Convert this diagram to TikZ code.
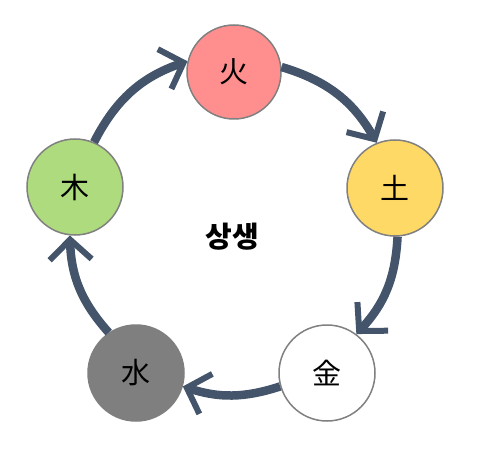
\documentclass[tikz,border=0pt]{standalone}
\usepackage{fontspec}
\newfontfamily\cjk{Noto Sans CJK KR}
\usetikzlibrary{arrows.meta}
\definecolor{firec}{HTML}{FF8F8F}
\definecolor{earthc}{HTML}{FFD966}
\definecolor{waterc}{HTML}{7F7F7F}
\definecolor{woodc}{HTML}{ADDB7E}
\definecolor{arrc}{HTML}{44546A}
\definecolor{edgec}{HTML}{808080}
\tikzset{
  elem/.style={circle, minimum size=96pt, inner sep=0pt, draw=edgec, line width=1.5pt,
    font=\cjk\fontsize{29}{33}\selectfont},
  cyc/.style={draw=arrc, line width=8.5pt,
    -{Straight Barb[length=20pt, width=42pt, line width=6pt, sharp]}},
}
\begin{document}
\begin{tikzpicture}[x=1pt,y=1pt]
\useasboundingbox (0,0) rectangle (481,466);
\node[elem, fill=firec, minimum size=94pt] (fire) at (234,394) {火};
\node[elem, fill=earthc] (earth) at (395,278) {土};
\node[elem, fill=white] (metal) at (327,93) {金};
\node[elem, fill=waterc, draw=waterc] (water) at (136,93) {水};
\node[elem, fill=woodc] (wood) at (75,279) {木};
\node[font=\cjk\bfseries\fontsize{29}{33}\selectfont] (center) at (232,229) {상생};
\draw[cyc] (fire.6) to[bend left=22] (earth.112);
\draw[cyc] (earth.-87) to[bend left=20] (metal.53);
\draw[cyc] (metal.196) to[bend left=18] (water.-16);
\draw[cyc] (water.124) to[bend left=20] (wood.-96);
\draw[cyc] (wood.67) to[bend left=22] (fire.167);
\end{tikzpicture}
\end{document}
